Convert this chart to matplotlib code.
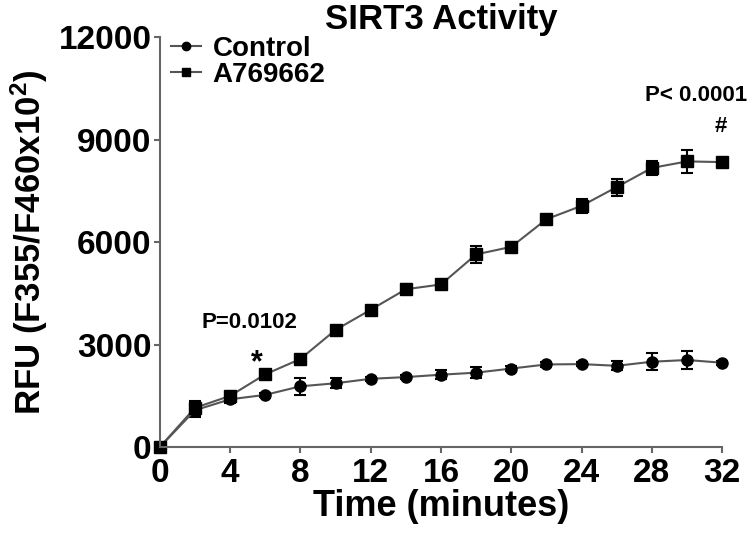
import numpy as np
import matplotlib
matplotlib.use("Agg")
import matplotlib.pyplot as plt
from matplotlib.lines import Line2D

plt.rcParams['font.family'] = ['Liberation Sans', 'DejaVu Sans']
plt.rcParams['font.weight'] = 'bold'
plt.rcParams['mathtext.fontset'] = 'custom'
plt.rcParams['mathtext.bf'] = 'Liberation Sans:bold'

minutes = [0, 2, 4, 6, 8, 10, 12, 14, 16, 18, 20, 22, 24, 26, 28, 30, 32]

control = [0, 1080, 1400, 1530, 1780, 1870, 2000, 2050, 2120, 2180, 2300, 2420, 2430, 2380, 2500, 2550, 2470]
control_err = [0, 200, 100, 60, 250, 150, 60, 60, 130, 170, 80, 60, 60, 130, 250, 250, 60]

a769662 = [0, 1150, 1500, 2130, 2580, 3430, 4020, 4620, 4760, 5640, 5860, 6670, 7060, 7610, 8170, 8360, 8340]
a769662_err = [0, 200, 100, 60, 80, 60, 60, 150, 120, 250, 80, 100, 200, 250, 200, 330, 60]

fig = plt.figure(figsize=(7.5, 5.44), dpi=100)
ax = fig.add_axes([0.213, 0.178, 0.75, 0.754])

ax.errorbar(minutes, control, yerr=control_err, color='#555555', lw=1.5,
            marker='o', ms=8, mfc='black', mec='black',
            ecolor='black', elinewidth=1.5, capsize=4, capthick=1.5, clip_on=False)
ax.errorbar(minutes, a769662, yerr=a769662_err, color='#555555', lw=1.5,
            marker='s', ms=8, mfc='black', mec='black',
            ecolor='black', elinewidth=1.5, capsize=4, capthick=1.5, clip_on=False)

ax.set_xlim(0, 32)
ax.set_ylim(0, 12000)
ax.set_xticks(range(0, 33, 4))
ax.set_yticks(range(0, 12001, 3000))
ax.spines['top'].set_visible(False)
ax.spines['right'].set_visible(False)
for s in ['left', 'bottom']:
    ax.spines[s].set_linewidth(1.5)
    ax.spines[s].set_color('#666666')
ax.tick_params(width=1.5, length=4, pad=2, labelsize=24, color='#666666')
ax.tick_params(axis='x', pad=4)
for lab in ax.get_xticklabels() + ax.get_yticklabels():
    lab.set_fontweight('bold')

ax.set_xlabel('Time (minutes)', fontsize=26, fontweight='bold', labelpad=0)
ax.set_ylabel('RFU (F355/F460x10$\\mathbf{^2}$)', fontsize=25, fontweight='bold', labelpad=6)
ax.set_title('SIRT3 Activity', fontsize=25, fontweight='bold', pad=6)

ax.text(5.1, 3650, 'P=0.0102', fontsize=16, fontweight='bold', ha='center', va='center')
ax.text(5.5, 2450, '*', fontsize=22, fontweight='bold', ha='center', va='center')
ax.text(30.5, 10290, 'P< 0.0001', fontsize=16, fontweight='bold', ha='center', va='center')
ax.text(31.9, 9390, '#', fontsize=16, fontweight='bold', ha='center', va='center')

handles = [Line2D([], [], color='#555555', lw=1.5, marker='o', ms=6, mfc='black', mec='black'),
           Line2D([], [], color='#555555', lw=1.5, marker='s', ms=6, mfc='black', mec='black')]
ax.legend(handles, ['Control', 'A769662'], loc='upper left', frameon=False, fontsize=20,
          handlelength=1.1, handletextpad=0.4, borderaxespad=0.0, labelspacing=0.0,
          bbox_to_anchor=(0.0, 1.03))

fig.savefig('out.png', dpi=100)
